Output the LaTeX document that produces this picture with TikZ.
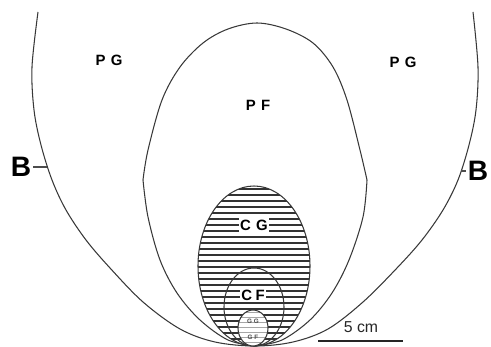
\documentclass[tikz,border=0pt]{standalone}
\usepackage{fontspec}
\setmainfont{Liberation Sans}
\begin{document}
\begin{tikzpicture}[x=0.02cm,y=-0.02cm,
  curve/.style={line width=0.6pt, draw=black!78},
  hatch/.style={line width=0.75pt, draw=black!80},
  lighthatch/.style={line width=0.5pt, draw=black!35},
  lab/.style={font=\bfseries\fontsize{8.5}{9}\selectfont, text=black, inner sep=0pt},
  tinylab/.style={font=\bfseries\fontsize{3.6}{4}\selectfont, text=black!70, inner sep=0pt},
  bigB/.style={font=\bfseries\fontsize{16}{18}\selectfont, inner sep=1pt},
  tickline/.style={line width=0.6pt, draw=black!70},
  scalebar/.style={line width=1pt, draw=black!85}]
\useasboundingbox (0,0) rectangle (491,347);

% outer B boundary
\draw[curve] plot[smooth, tension=0.55] coordinates {(38,12) (32,67) (34,110) (41,145) (52,180) (66,210) (86,240) (110,268) (143,302) (180,329) (215,342) (255,346) (293,342) (328,329) (363,302) (397,268) (422,240) (443,210) (458,180) (469,145) (476,110) (478,67) (473,12)};

% PF boundary (upper arc, then the two lower flanks)
\draw[curve] plot[smooth, tension=0.55] coordinates {(143,180) (148,150) (162,100) (180,67) (203,43) (228,29) (257,23) (286,29) (313,43) (333,67) (347,100) (360,150) (367,180)};
\draw[curve] plot[smooth, tension=0.55] coordinates {(143,180) (148,217) (160,260) (177,293) (200,320) (228,340) (255,346)};
\draw[curve] plot[smooth, tension=0.55] coordinates {(367,180) (363,217) (349,260) (332,293) (310,320) (282,340) (255,346)};

% CG hatched region
\begin{scope}
  \clip (254,266) ellipse [x radius=56, y radius=80];
  \foreach \yy in {189,195,...,347} \draw[hatch] (190,\yy) -- (320,\yy);
\end{scope}
\draw[curve] (254,266) ellipse [x radius=56, y radius=80];

% CF
\draw[curve] (254,307) ellipse [x radius=30, y radius=39];

% smallest region
\fill[white] (253,328) ellipse [x radius=15, y radius=18];
\begin{scope}
  \clip (253,328) ellipse [x radius=15, y radius=18];
  \foreach \yy in {312,317,...,347} \draw[lighthatch] (236,\yy) -- (270,\yy);
\end{scope}
\draw[curve] (253,328) ellipse [x radius=15, y radius=18];

% labels
\node[lab] (pgl) at (109,60) {P\kern3pt G};
\node[lab] (pgr) at (403,62) {P\kern3pt G};
\node[lab] (pf) at (258,105) {P\kern3pt F};
\node[lab, fill=white, inner sep=0.8pt] (cg) at (254,225) {C\kern3pt G};
\node[lab, fill=white, inner sep=0.8pt] (cf) at (253,295) {C\kern2pt F};
\node[tinylab] (gg) at (253,321) {G\kern1pt G};
\node[tinylab] (gf) at (253,337) {G\kern1pt F};

% B markers
\node[bigB] (bl) at (21,167) {B};
\coordinate (blc) at (47,167);
\draw[tickline] (bl.east) -- (blc);
\node[bigB] (br) at (478,171) {B};
\coordinate (brc) at (461,171);
\draw[tickline] (brc) -- (br.west);

% scale bar
\coordinate (s1) at (318,341);
\coordinate (s2) at (403,341);
\draw[scalebar] (s1) -- (s2);
\node[font=\fontsize{9}{10}\selectfont, text=black!85] (sc) at (361,327) {5 cm};
\end{tikzpicture}
\end{document}
